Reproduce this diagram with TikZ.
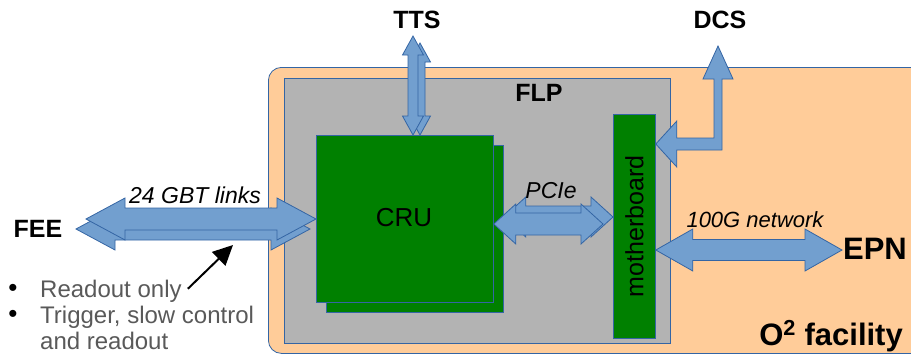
\documentclass[tikz,border=0pt]{standalone}
\usepackage{fontspec}
\setmainfont{Liberation Sans}
\usepackage{tikz}
\usetikzlibrary{arrows.meta,positioning,calc}
\definecolor{linkfill}{HTML}{729FCF}
\definecolor{linkline}{HTML}{3465A4}
\definecolor{facilityfill}{HTML}{FFCC99}
\definecolor{flpfill}{HTML}{B3B3B3}
\definecolor{cardfill}{HTML}{008000}
\definecolor{notegray}{HTML}{595959}
% horizontal block arrow with two heads: ends, shaft half, head half, head length
\newcommand{\hlink}[5]{\draw[linkarrow] let \p1=(#1), \p2=(#2) in
(\p1) -- (\x1+#5pt,\y1+#4pt) -- (\x1+#5pt,\y1+#3pt) -- (\x2-#5pt,\y1+#3pt)
-- (\x2-#5pt,\y1+#4pt) -- (\x2,\y1) -- (\x2-#5pt,\y1-#4pt) -- (\x2-#5pt,\y1-#3pt)
-- (\x1+#5pt,\y1-#3pt) -- (\x1+#5pt,\y1-#4pt) -- cycle;}
% the same standing upright, top end first
\newcommand{\vlink}[5]{\draw[linkarrow] let \p1=(#1), \p2=(#2) in
(\p1) -- (\x1+#4pt,\y1-#5pt) -- (\x1+#3pt,\y1-#5pt) -- (\x1+#3pt,\y2+#5pt)
-- (\x1+#4pt,\y2+#5pt) -- (\x1,\y2) -- (\x1-#4pt,\y2+#5pt) -- (\x1-#3pt,\y2+#5pt)
-- (\x1-#3pt,\y1-#5pt) -- (\x1-#4pt,\y1-#5pt) -- cycle;}
\begin{document}
\begin{tikzpicture}[x=1pt,y=-1pt]
\tikzset{linkarrow/.style={fill=linkfill,draw=linkline,line width=0.8pt}}
\tikzset{facilitybox/.style={draw=linkline,fill=facilityfill,line width=0.8pt,rounded corners=13pt,anchor=north west,inner sep=0pt}}
\tikzset{flpbox/.style={draw=linkline,fill=flpfill,line width=0.8pt,anchor=north west,inner sep=0pt}}
\tikzset{cardbox/.style={draw=linkline,fill=cardfill,line width=0.8pt,anchor=north west,inner sep=0pt}}
\tikzset{endlabel/.style={font=\bfseries\fontsize{25}{30}\selectfont,inner sep=0pt}}
\tikzset{linklabel/.style={font=\itshape\fontsize{23}{27}\selectfont,inner sep=0pt,anchor=base}}
\tikzset{note/.style={font=\fontsize{24}{26}\selectfont,text=notegray,inner sep=0pt,anchor=base west,align=left}}
\useasboundingbox (0,0) rectangle (911,354);

\node[facilitybox,minimum width=670pt,minimum height=286pt] (o2) at (268,67) {};
\node[flpbox,minimum width=386pt,minimum height=265pt] (flp) at (284,78) {};
\node[cardbox,minimum width=177pt,minimum height=167pt] (cruback) at (326,145) {};
\node[cardbox,minimum width=177pt,minimum height=167pt] (cru) at (316,135) {};
\node[cardbox,minimum width=42pt,minimum height=224pt] (mb) at (613,114) {};

\node[font=\fontsize{26}{31}\selectfont] (crutext) at (404,218) {CRU};
\node[font=\fontsize{25}{30}\selectfont,rotate=90,inner sep=0pt] (mbtext) at (mb.center) {motherboard};
\node[endlabel] (flplabel) at (539,93) {FLP};
\node[endlabel] (tts) at (417,20) {TTS};
\node[endlabel] (dcs) at (720,20) {DCS};
\node[endlabel] (fee) at (38,229) {FEE};
\node[endlabel,font=\bfseries\fontsize{31}{36}\selectfont] (epn) at (875,249) {EPN};
\node[endlabel,font=\bfseries\fontsize{31}{36}\selectfont,anchor=base east] (o2label) at (903,345) {O\textsuperscript{2} facility};

% link ends
\coordinate (ttsfront) at (413,36);
\coordinate (ttsback) at (420,43);
\coordinate (feefront) at (86,219);
\coordinate (feeback) at (76,229);
\coordinate (pciefront) at (cru.east |- 0,224);
\coordinate (pcieback) at (cruback.east |- 0,217);
\coordinate (epnend) at (842,250);
\coordinate (dcsin) at (mb.east |- 0,144);
\coordinate (dcsout) at (718,46);

\vlink{ttsback}{ttsback |- cru.north}{5}{10.5}{19}
\vlink{ttsfront}{ttsfront |- cru.north}{5}{10.5}{19}
\hlink{feeback}{310,229}{11}{21}{39}
\hlink{feefront}{cru.west |- feefront}{11}{21}{39}
\hlink{pcieback}{mb.west |- pcieback}{11}{20}{22}
\hlink{pciefront}{603,224}{11}{20}{22}
\hlink{mb.east |- epnend}{epnend}{10.5}{21}{37}
\draw[linkarrow] let \p1=(dcsin), \p2=(dcsout) in
(\p1) -- (\x1+21pt,\y1+23pt) -- (\x1+21pt,\y1+6pt) -- (\x2-4pt,\y1+6pt)
-- (\x2-4pt,\y2-33pt) -- (\x2-15pt,\y2-33pt) -- (\p2) -- (\x2+15pt,\y2-33pt)
-- (\x2+4pt,\y2-33pt) -- (\x2+4pt,\y1-6pt) -- (\x1+21pt,\y1-6pt) -- (\x1+21pt,\y1-23pt) -- cycle;

\node[linklabel] (gbt) at (195,203) {24 GBT links};
\node[linklabel] (pcie) at (551,198) {PCIe};
\node[linklabel,font=\itshape\fontsize{22}{26}\selectfont] (net) at (755,227) {100G network};

\node[note] (readout) at (40,297) {Readout only};
\node[note] (trigger) at (40,349) {Trigger, slow control\\and readout};
\node[inner sep=0pt,font=\fontsize{26}{30}\selectfont] (dot1) at (13,290) {\textbullet};
\node[inner sep=0pt,font=\fontsize{26}{30}\selectfont] (dot2) at (13,316) {\textbullet};
\coordinate (pointer) at (233,245);
\draw[line width=2pt,-{Triangle[length=20pt,width=19pt]}] ($(readout.east)+(6,-2)$) -- (pointer);
\end{tikzpicture}
\end{document}
